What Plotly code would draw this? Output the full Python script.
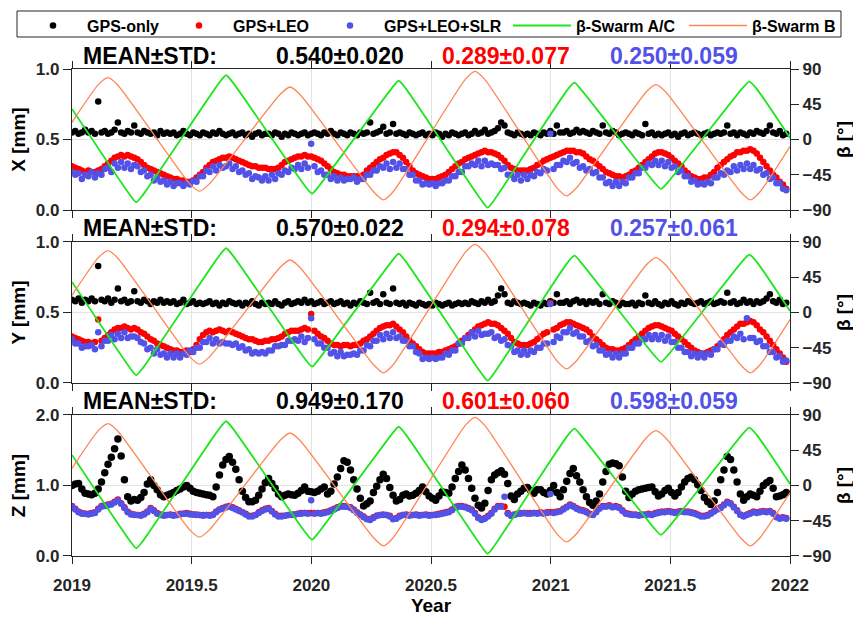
import numpy as np
import plotly.graph_objects as go
from plotly.subplots import make_subplots

# epochs: every 5th day of 2019-2021, in decimal years
days = np.arange(0, 1095, 5)
year = 2019 + days / 365.25

# values (hundredths of mm)
x_gps = np.array([
    55, 56, 54, 55, 57, 55, 56, 54, 77, 55, 56, 54, 55, 57, 62, 55, 54, 56, 55, 60,
    55, 54, 56, 55, 54, 55, 53, 56, 54, 55, 54, 55, 53, 54, 56, 54, 53, 55, 54, 53,
    55, 54, 53, 55, 54, 56, 54, 53, 54, 55, 53, 54, 55, 53, 54, 52, 54, 55, 53, 54,
    54, 53, 55, 54, 52, 54, 53, 55, 54, 53, 54, 55, 53, 54, 55, 54, 53, 55, 54, 56,
    54, 53, 55, 54, 53, 55, 54, 53, 55, 54, 55, 62, 54, 55, 56, 59, 54, 55, 61, 54,
    55, 54, 53, 55, 54, 53, 54, 55, 53, 54, 53, 55, 54, 52, 54, 53, 55, 54, 53, 54,
    55, 53, 54, 56, 54, 55, 57, 54, 55, 56, 58, 62, 60, 55, 54, 53, 55, 54, 53, 54,
    53, 55, 54, 53, 55, 54, 56, 54, 60, 55, 55, 56, 54, 55, 57, 55, 56, 55, 54, 56,
    55, 54, 60, 55, 54, 56, 55, 53, 54, 55, 54, 53, 55, 54, 53, 61, 54, 55, 53, 54,
    53, 54, 55, 53, 54, 52, 54, 55, 53, 54, 55, 54, 53, 54, 55, 53, 54, 55, 54, 55,
    60, 54, 55, 53, 55, 54, 53, 55, 54, 56, 55, 54, 56, 60, 55, 54, 56, 53, 54]) / 100
x_leo = np.array([
    31, 30, 29, 28, 27, 28, 27, 27, 28, 29, 31, 33, 35, 37, 38, 39, 38, 39, 38, 37,
    36, 34, 32, 30, 29, 28, 27, 26, 25, 24, 23, 22, 22, 21, 21, 20, 20, 21, 23, 25,
    27, 30, 32, 34, 35, 36, 37, 37, 38, 37, 36, 35, 34, 33, 32, 31, 31, 30, 30, 30,
    29, 29, 29, 30, 32, 34, 35, 36, 37, 38, 38, 39, 38, 38, 37, 36, 35, 33, 31, 29,
    27, 26, 25, 25, 24, 24, 24, 24, 24, 25, 28, 30, 32, 34, 36, 37, 39, 40, 41, 41,
    39, 37, 34, 31, 28, 26, 25, 24, 23, 22, 22, 22, 23, 24, 25, 27, 29, 31, 33, 34,
    36, 37, 38, 39, 40, 41, 42, 41, 41, 40, 39, 37, 35, 32, 30, 29, 28, 28, 28, 28,
    29, 30, 32, 33, 35, 36, 37, 38, 39, 40, 41, 42, 42, 42, 41, 41, 40, 38, 36, 35,
    33, 31, 29, 27, 26, 25, 24, 24, 23, 24, 25, 27, 28, 30, 32, 34, 36, 38, 40, 41,
    41, 40, 39, 37, 35, 33, 31, 28, 26, 24, 23, 22, 22, 23, 23, 25, 27, 30, 32, 34,
    36, 38, 39, 41, 41, 42, 42, 43, 42, 40, 37, 34, 31, 28, 25, 23, 20, 18, 15]) / 100
x_slr = np.array([
    27, 25, 26, 22, 25, 24, 27, 23, 26, 25, 29, 30, 27, 33, 30, 34, 30, 33, 29, 32,
    31, 27, 28, 24, 25, 21, 23, 20, 21, 18, 20, 17, 19, 19, 17, 19, 18, 21, 20, 24,
    24, 28, 27, 31, 28, 32, 30, 31, 33, 29, 31, 27, 28, 25, 26, 22, 24, 23, 21, 24,
    21, 25, 22, 26, 25, 28, 27, 30, 29, 32, 29, 33, 30, 47, 31, 27, 28, 25, 25, 22,
    24, 21, 23, 21, 22, 22, 23, 20, 22, 22, 25, 25, 28, 28, 31, 30, 33, 29, 34, 30,
    33, 29, 29, 25, 25, 21, 21, 18, 19, 18, 19, 17, 19, 19, 21, 21, 24, 24, 27, 27,
    31, 31, 33, 32, 35, 31, 35, 32, 33, 32, 32, 29, 30, 25, 25, 22, 25, 21, 25, 22,
    25, 24, 27, 26, 29, 28, 54, 29, 32, 32, 35, 34, 37, 33, 34, 30, 31, 28, 29, 26,
    27, 23, 23, 19, 20, 17, 20, 17, 20, 19, 23, 23, 26, 26, 30, 30, 33, 32, 35, 32,
    35, 31, 34, 30, 31, 27, 28, 24, 24, 20, 21, 18, 19, 18, 20, 19, 23, 23, 26, 25,
    28, 27, 31, 28, 32, 29, 33, 29, 32, 28, 29, 25, 26, 22, 23, 19, 19, 15, 14]) / 100

y_gps = np.array([
    59, 58, 60, 57, 59, 58, 60, 58, 83, 59, 58, 60, 57, 59, 67, 58, 59, 57, 58, 65,
    58, 57, 59, 58, 56, 58, 57, 59, 57, 58, 57, 58, 56, 57, 59, 56, 57, 58, 56, 57,
    56, 57, 58, 56, 57, 55, 57, 56, 58, 57, 56, 57, 55, 57, 56, 58, 56, 55, 57, 56,
    57, 56, 58, 56, 55, 57, 58, 56, 57, 58, 57, 59, 57, 58, 56, 57, 58, 56, 57, 58,
    56, 57, 58, 56, 57, 55, 57, 56, 58, 57, 56, 64, 57, 58, 56, 63, 57, 56, 67, 57,
    56, 57, 55, 57, 56, 55, 57, 56, 55, 56, 55, 57, 56, 55, 56, 57, 55, 56, 57, 56,
    57, 56, 58, 57, 56, 58, 57, 59, 57, 58, 62, 67, 63, 57, 56, 58, 57, 56, 57, 56,
    55, 57, 56, 55, 57, 56, 58, 57, 63, 57, 57, 58, 56, 58, 59, 57, 58, 56, 58, 57,
    58, 56, 63, 57, 56, 58, 57, 55, 57, 56, 56, 57, 55, 57, 56, 62, 57, 56, 58, 56,
    55, 57, 56, 58, 56, 55, 57, 56, 58, 57, 56, 57, 58, 56, 57, 58, 56, 57, 58, 57,
    64, 57, 58, 56, 57, 59, 57, 58, 56, 58, 57, 58, 60, 63, 58, 57, 59, 56, 57]) / 100
y_leo = np.array([
    33, 32, 31, 30, 29, 29, 28, 29, 45, 30, 32, 34, 36, 38, 39, 39, 40, 39, 38, 39,
    38, 36, 35, 33, 31, 30, 28, 27, 26, 25, 24, 23, 23, 22, 22, 23, 22, 24, 27, 31,
    34, 36, 37, 36, 37, 38, 37, 36, 37, 36, 35, 34, 33, 32, 31, 31, 30, 29, 29, 30,
    30, 31, 31, 32, 33, 35, 36, 37, 37, 37, 38, 39, 38, 49, 37, 35, 33, 32, 30, 28,
    27, 27, 26, 27, 27, 26, 27, 27, 28, 30, 31, 33, 35, 37, 39, 40, 41, 41, 42, 40,
    38, 36, 33, 30, 28, 26, 24, 22, 21, 21, 21, 21, 22, 22, 23, 24, 25, 26, 28, 30,
    32, 34, 36, 38, 40, 41, 42, 43, 42, 42, 41, 39, 37, 35, 32, 29, 28, 27, 27, 27,
    28, 29, 31, 33, 35, 36, 57, 38, 39, 41, 42, 43, 43, 42, 41, 40, 39, 38, 36, 33,
    31, 29, 27, 25, 24, 24, 23, 23, 24, 25, 27, 29, 31, 33, 35, 37, 39, 40, 41, 41,
    40, 39, 38, 37, 35, 33, 31, 29, 27, 25, 23, 22, 21, 21, 22, 23, 24, 26, 28, 31,
    34, 36, 38, 40, 42, 42, 43, 44, 43, 41, 38, 36, 33, 30, 27, 24, 21, 18, 15]) / 100
y_slr = np.array([
    31, 28, 28, 25, 26, 26, 27, 24, 36, 26, 30, 30, 34, 31, 35, 32, 36, 32, 33, 33,
    32, 29, 28, 24, 25, 21, 24, 20, 21, 18, 21, 18, 21, 18, 21, 20, 23, 22, 25, 25,
    29, 29, 32, 28, 31, 28, 29, 28, 28, 27, 28, 25, 26, 23, 24, 21, 22, 21, 22, 21,
    23, 23, 26, 26, 27, 27, 30, 30, 31, 30, 33, 29, 32, 46, 31, 28, 28, 25, 25, 21,
    22, 19, 22, 19, 20, 20, 21, 20, 23, 23, 27, 26, 30, 30, 34, 31, 35, 32, 36, 32,
    33, 30, 30, 26, 26, 22, 21, 17, 18, 17, 18, 17, 18, 18, 21, 20, 23, 23, 28, 28,
    32, 32, 36, 33, 37, 34, 35, 35, 36, 32, 33, 30, 31, 27, 26, 22, 23, 20, 23, 20,
    23, 22, 25, 25, 28, 28, 56, 29, 33, 32, 36, 36, 39, 35, 36, 33, 33, 29, 30, 26,
    27, 23, 23, 20, 21, 18, 21, 18, 21, 21, 25, 25, 28, 28, 31, 31, 34, 31, 34, 31,
    34, 30, 33, 29, 29, 25, 25, 22, 22, 19, 21, 18, 21, 18, 21, 20, 24, 24, 28, 27,
    30, 30, 33, 32, 35, 31, 46, 32, 32, 29, 30, 26, 26, 22, 22, 18, 19, 15, 16]) / 100

z_gps = np.array([
    100, 102, 103, 95, 89, 88, 87, 89, 95, 105, 118, 130, 140, 152, 166, 142, 108, 84, 78, 80,
    79, 83, 90, 102, 108, 100, 94, 87, 84, 86, 88, 90, 93, 95, 98, 100, 96, 92, 90, 89,
    88, 87, 86, 84, 98, 115, 129, 137, 141, 133, 123, 108, 92, 83, 77, 77, 79, 86, 95, 104,
    110, 103, 96, 88, 84, 86, 88, 87, 86, 89, 93, 98, 92, 91, 90, 92, 95, 98, 88, 92,
    102, 112, 124, 135, 133, 122, 108, 95, 82, 71, 74, 78, 90, 99, 108, 116, 110, 97, 86, 78,
    80, 86, 88, 85, 86, 89, 93, 98, 91, 85, 82, 79, 85, 91, 90, 89, 98, 110, 120, 129,
    122, 110, 96, 82, 72, 68, 75, 93, 108, 115, 118, 121, 116, 103, 85, 80, 88, 92, 96, 97,
    93, 89, 94, 94, 90, 88, 93, 100, 90, 84, 94, 106, 117, 124, 114, 105, 94, 84, 76, 72,
    78, 88, 105, 120, 130, 132, 131, 128, 112, 92, 83, 88, 92, 94, 95, 96, 97, 98, 91, 85,
    88, 93, 96, 90, 85, 90, 98, 105, 110, 112, 108, 101, 93, 83, 77, 73, 78, 90, 108, 122,
    141, 137, 122, 105, 88, 79, 84, 88, 86, 84, 92, 100, 104, 107, 96, 84, 85, 87, 90]) / 100
z_leo = np.array([
    71, 67, 63, 61, 60, 60, 61, 62, 67, 71, 72, 73, 74, 77, 80, 75, 69, 63, 60, 59,
    58, 58, 60, 63, 68, 65, 61, 59, 58, 58, 59, 58, 58, 60, 60, 61, 60, 59, 59, 58,
    58, 58, 58, 59, 63, 66, 68, 70, 71, 69, 67, 65, 62, 60, 57, 57, 58, 62, 65, 67,
    68, 64, 60, 57, 57, 57, 58, 59, 59, 60, 61, 61, 61, 61, 61, 61, 61, 62, 63, 65,
    67, 69, 71, 71, 70, 69, 66, 62, 59, 56, 53, 52, 55, 57, 58, 59, 58, 57, 53, 54,
    57, 58, 59, 58, 58, 59, 58, 58, 59, 58, 58, 59, 60, 61, 62, 63, 66, 70, 71, 71,
    70, 68, 66, 61, 55, 52, 54, 57, 61, 67, 71, 71, 70, 61, 57, 59, 60, 61, 61, 61,
    61, 61, 61, 62, 61, 62, 62, 62, 63, 64, 67, 70, 73, 71, 68, 66, 65, 63, 60, 59,
    63, 68, 71, 71, 72, 70, 71, 69, 65, 61, 60, 59, 59, 58, 59, 59, 60, 59, 61, 62,
    63, 63, 64, 63, 62, 63, 64, 63, 63, 62, 61, 59, 57, 57, 58, 61, 64, 67, 69, 73,
    77, 75, 70, 65, 59, 57, 59, 61, 63, 62, 63, 64, 63, 64, 61, 56, 54, 55, 54]) / 100
z_slr = np.array([
    70, 66, 62, 60, 60, 59, 60, 61, 66, 70, 71, 72, 73, 76, 79, 74, 68, 62, 59, 58,
    58, 57, 59, 62, 67, 64, 60, 58, 57, 58, 58, 57, 58, 59, 60, 60, 59, 59, 58, 58,
    57, 58, 57, 58, 62, 66, 67, 69, 70, 68, 66, 64, 62, 59, 56, 56, 58, 61, 64, 66,
    67, 63, 59, 56, 56, 57, 58, 58, 59, 60, 60, 61, 60, 79, 60, 61, 60, 61, 62, 64,
    66, 68, 70, 70, 70, 68, 65, 61, 58, 55, 52, 51, 54, 57, 58, 58, 58, 56, 52, 53,
    56, 58, 58, 57, 58, 58, 57, 58, 58, 57, 58, 58, 59, 60, 61, 62, 65, 69, 70, 70,
    69, 67, 65, 60, 54, 51, 53, 56, 60, 66, 70, 70, 84, 60, 57, 58, 60, 60, 61, 60,
    60, 61, 60, 61, 60, 61, 88, 61, 62, 63, 66, 69, 72, 70, 67, 65, 64, 62, 59, 58,
    62, 67, 70, 70, 71, 69, 70, 68, 64, 60, 59, 58, 58, 57, 58, 58, 59, 58, 60, 61,
    62, 62, 63, 62, 61, 62, 63, 62, 62, 61, 60, 58, 56, 56, 57, 60, 63, 66, 68, 72,
    76, 74, 69, 64, 58, 56, 58, 60, 62, 61, 62, 63, 62, 63, 60, 55, 53, 54, 53]) / 100

# beta angles [deg], read at turning points and shoulders
beta_ac_t = [2019.0, 2019.238, 2019.268, 2019.298, 2019.614, 2019.644, 2019.674,
             2019.973, 2020.003, 2020.033, 2020.335, 2020.365, 2020.395,
             2020.707, 2020.737, 2020.767, 2021.069, 2021.099, 2021.129,
             2021.431, 2021.461, 2021.491, 2021.80, 2021.83, 2021.86, 2022.0]
beta_ac = [39, -69, -80, -70, 72, 82, 72, -59, -69, -59, 65, 75, 65,
           -76, -87, -76, 63, 72.5, 63, -54, -63, -54, 65, 74, 65, 2]
beta_b_t = [2019.0, 2019.11, 2019.15, 2019.19, 2019.493, 2019.533, 2019.573,
            2019.871, 2019.911, 2019.951, 2020.261, 2020.301, 2020.341,
            2020.644, 2020.684, 2020.724, 2021.027, 2021.067, 2021.107,
            2021.40, 2021.44, 2021.48, 2021.794, 2021.834, 2021.874, 2022.0]
beta_b = [22, 70, 79, 70, -57, -66, -57, 58, 67, 58, -67, -77, -67,
          77, 87, 77, -62, -72, -62, 61, 70, 61, -67, -77, -67, -9]

names = ['GPS-only', 'GPS+LEO', 'GPS+LEO+SLR']
colors = ['#000000', '#ff0000', '#5252e8']
axis_names = ['X [mm]', 'Y [mm]', 'Z [mm]']
panels = [[x_gps, x_leo, x_slr], [y_gps, y_leo, y_slr], [z_gps, z_leo, z_slr]]
mean_x = ['0.540±0.020', '0.289±0.077', '0.250±0.059']
mean_y = ['0.570±0.022', '0.294±0.078', '0.257±0.061']
mean_z = ['0.949±0.170', '0.601±0.060', '0.598±0.059']
stats = [mean_x, mean_y, mean_z]
legend_w = [73, 78, 0]

fig = make_subplots(rows=3, cols=1, vertical_spacing=0.0657,
                    specs=[[{'secondary_y': True}]] * 3)

for r in range(3):
    for k in range(3):
        vals = panels[r][k]
        # the Z GPS-only curve is drawn a little heavier, as in the original
        size = 7.5 if (r == 2 and k == 0) else 6.5
        fig.add_trace(go.Scatter(
            x=year[:len(vals)], y=vals, mode='markers', name=names[k],
            legendgroup=names[k], showlegend=(r == 0), legendwidth=legend_w[k],
            marker=dict(size=size, color=colors[k])),
            row=r + 1, col=1, secondary_y=False)
    fig.add_trace(go.Scatter(
        x=beta_ac_t, y=beta_ac, mode='lines', name='β-Swarm A/C',
        legendgroup='ac', showlegend=(r == 0), legend='legend2', legendwidth=103,
        line=dict(color='#1ee61e', width=1.8, shape='spline', smoothing=0.6)),
        row=r + 1, col=1, secondary_y=True)
    fig.add_trace(go.Scatter(
        x=beta_b_t, y=beta_b, mode='lines', name='β-Swarm B',
        legendgroup='b', showlegend=(r == 0), legend='legend2',
        line=dict(color='#ff8655', width=1.3, shape='spline', smoothing=0.6)),
        row=r + 1, col=1, secondary_y=True)

tick_font = dict(family='Liberation Sans, Arial', size=17, color='#262626', weight='bold')
title_font = dict(family='Liberation Sans, Arial', size=19, color='#000000', weight='bold')

fig.update_xaxes(domain=[0, 1], range=[2019, 2022], tick0=2019, dtick=0.5,
                 tickformat='.6~g', showgrid=True, gridcolor='#e3e3e3', gridwidth=1,
                 ticks='outside', ticklen=7, tickcolor='#262626', showline=True,
                 linecolor='#262626', linewidth=1.2, mirror='ticks', zeroline=False,
                 tickfont=tick_font, showticklabels=False)
fig.update_xaxes(showticklabels=True, ticklabelstandoff=6,
                 title=dict(text='Year', font=title_font, standoff=5), row=3, col=1)

for r in range(3):
    top = 2 if r == 2 else 1
    fig.update_yaxes(range=[0, top], tickvals=[0, top / 2, top], tickformat='.1f',
                     showgrid=True, gridcolor='#e3e3e3', zeroline=False,
                     ticks='outside', ticklen=8, tickcolor='#262626',
                     showline=True, linecolor='#262626', linewidth=1.2,
                     tickfont=tick_font,
                     title=dict(text=axis_names[r], font=title_font, standoff=8),
                     row=r + 1, col=1, secondary_y=False)
    fig.update_yaxes(range=[-90, 90], tickvals=[-90, -45, 0, 45, 90],
                     showgrid=False, zeroline=False, ticks='outside', ticklen=8,
                     tickcolor='#262626', showline=True, linecolor='#262626',
                     linewidth=1.2, tickfont=tick_font,
                     title=dict(text='β [°]', font=title_font, standoff=6),
                     row=r + 1, col=1, secondary_y=True)

# MEAN±STD labels above each panel
tops = [fig.layout.yaxis.domain[1], fig.layout.yaxis3.domain[1], fig.layout.yaxis5.domain[1]]
stat_x = [0.3726, 0.6049, 0.8389]
ann_font = dict(family='Liberation Sans, Arial', size=23, weight='bold')
for r in range(3):
    fig.add_annotation(x=0.0132, y=tops[r], xref='paper', yref='paper',
                       xanchor='left', yanchor='middle', yshift=13.5,
                       text='MEAN±STD:', showarrow=False,
                       font=dict(ann_font, color='#000000'))
    for k in range(3):
        fig.add_annotation(x=stat_x[k], y=tops[r], xref='paper', yref='paper',
                           xanchor='center', yanchor='middle', yshift=13.5,
                           text=stats[r][k], showarrow=False,
                           font=dict(ann_font, color=colors[k]))

# legend frame
fig.add_shape(type='rect', xref='paper', yref='paper',
              x0=-0.0766, x1=1.071, y0=1.0657, y1=1.1191,
              line=dict(color='#262626', width=1), fillcolor='rgba(0,0,0,0)')

# the page body adds an 8 px offset, so the figure is 8 px smaller on each side
leg_font = dict(family='Liberation Sans, Arial', size=16, color='#000000', weight='bold')
fig.update_layout(
    width=853, height=611,
    margin=dict(l=64, r=71, t=61, b=63, autoexpand=False),
    paper_bgcolor='white', plot_bgcolor='white',
    showlegend=True,
    legend=dict(orientation='h', x=-0.0738, xanchor='left', y=1.124, yanchor='top',
                itemwidth=58, bgcolor='rgba(0,0,0,0)', borderwidth=0, font=leg_font),
    legend2=dict(orientation='h', x=0.6072, xanchor='left', y=1.124, yanchor='top',
                 itemwidth=58, bgcolor='rgba(0,0,0,0)', borderwidth=0, font=leg_font),
)

fig.write_html("out.html")
